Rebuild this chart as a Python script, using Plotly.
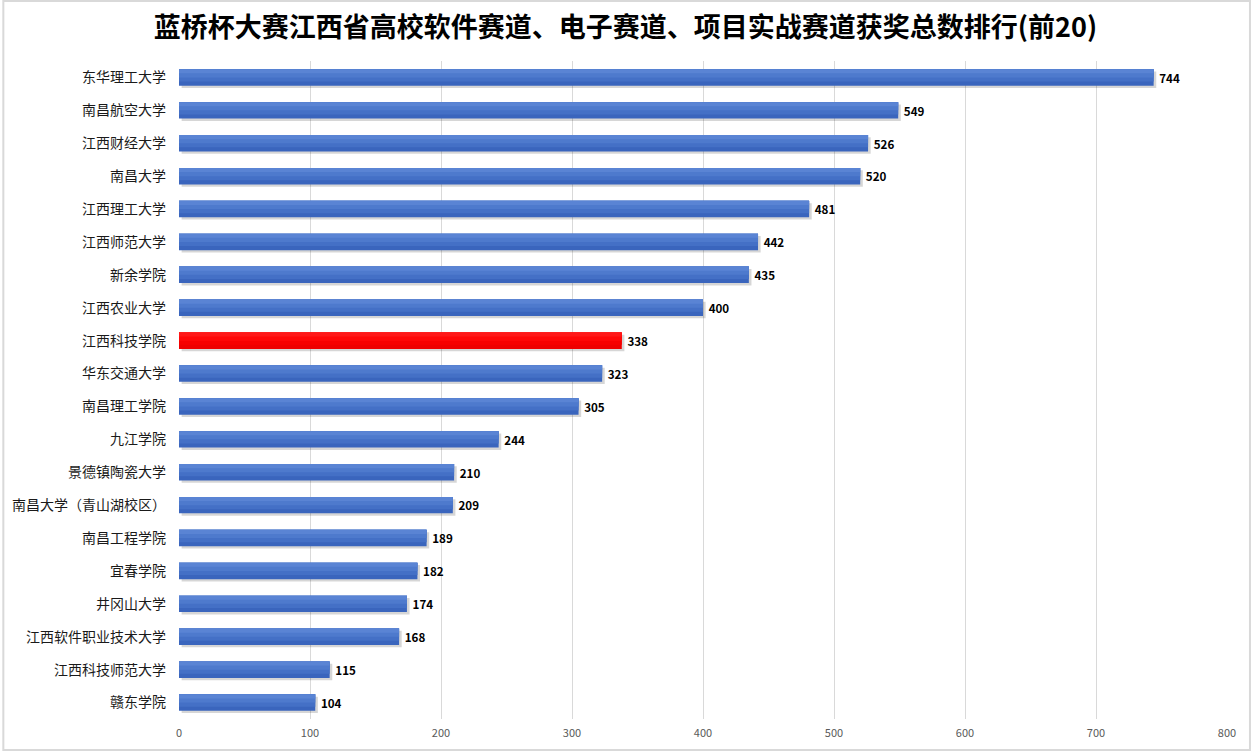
import plotly.graph_objects as go

schools = [
    "东华理工大学", "南昌航空大学", "江西财经大学", "南昌大学", "江西理工大学",
    "江西师范大学", "新余学院", "江西农业大学", "江西科技学院", "华东交通大学",
    "南昌理工学院", "九江学院", "景德镇陶瓷大学", "南昌大学（青山湖校区）", "南昌工程学院",
    "宜春学院", "井冈山大学", "江西软件职业技术大学", "江西科技师范大学", "赣东学院",
]
awards = [744, 549, 526, 520, 481, 442, 435, 400, 338, 323,
          305, 244, 210, 209, 189, 182, 174, 168, 115, 104]
highlight = "江西科技学院"

FONT = "Noto Sans CJK SC"
BAR_W = 0.5

# gradient layers, bottom (dark) drawn first, lighter ones stacked over the top part
blue_layers = ["#3A65BD", "#4470C6", "#4E7ACD", "#5A84D4"]
red_layers = ["#EE0000", "#F70000", "#FF0808", "#FF1818"]

fig = go.Figure()

# soft shadow
fig.add_trace(go.Bar(
    y=schools, x=awards, orientation="h", base=2,
    width=BAR_W, offset=-BAR_W / 2 + 0.07,
    marker=dict(color="rgba(0,0,0,0.16)", line_width=0),
    hoverinfo="skip", showlegend=False,
))

step = BAR_W / len(blue_layers)
for i in range(len(blue_layers)):
    colors = [red_layers[i] if s == highlight else blue_layers[i] for s in schools]
    fig.add_trace(go.Bar(
        y=schools, x=awards, orientation="h",
        width=BAR_W - i * step, offset=-BAR_W / 2,
        marker=dict(color=colors, line_width=0),
        hoverinfo="skip", showlegend=False,
    ))

# value labels
fig.add_trace(go.Bar(
    y=schools, x=awards, orientation="h",
    width=BAR_W, offset=-BAR_W / 2,
    marker=dict(color="rgba(0,0,0,0)", line_width=0),
    text=[f" {v}" for v in awards], textposition="outside",
    textfont=dict(family=FONT, size=12, color="#000000", weight="bold"),
    cliponaxis=False, showlegend=False,
    hovertemplate="%{y}: %{x}<extra></extra>",
))

fig.update_layout(
    title=dict(
        text="<b>蓝桥杯大赛江西省高校软件赛道、电子赛道、项目实战赛道获奖总数排行(前20)</b>",
        x=0.5, xanchor="center", y=0.964, yanchor="middle",
        font=dict(family=FONT, size=27, color="#000000"),
    ),
    barmode="overlay",
    width=1251, height=752,
    margin=dict(l=177, r=24, t=61, b=32),
    plot_bgcolor="white", paper_bgcolor="white",
    font=dict(family=FONT),
    xaxis=dict(
        range=[0, 800], dtick=100, showgrid=True, gridcolor="#D9D9D9", gridwidth=1,
        zeroline=False, showline=False, ticks="", ticklabelstandoff=6,
        tickfont=dict(family=FONT, size=11, color="#595959"),
    ),
    yaxis=dict(
        autorange="reversed", showgrid=False, showline=False, ticks="",
        ticklabelstandoff=12, tickfont=dict(family=FONT, size=14, color="#1a1a1a"),
    ),
    shapes=[dict(
        type="rect", xref="paper", yref="paper",
        x0=-176 / 1050, x1=1 + 23 / 1050, y0=-31 / 659, y1=1 + 60 / 659,
        line=dict(color="#D9D9D9", width=2), fillcolor="rgba(0,0,0,0)",
    )],
)

fig.write_html("out.html", config={"displayModeBar": False},
               post_script="document.body.style.margin='0';")
